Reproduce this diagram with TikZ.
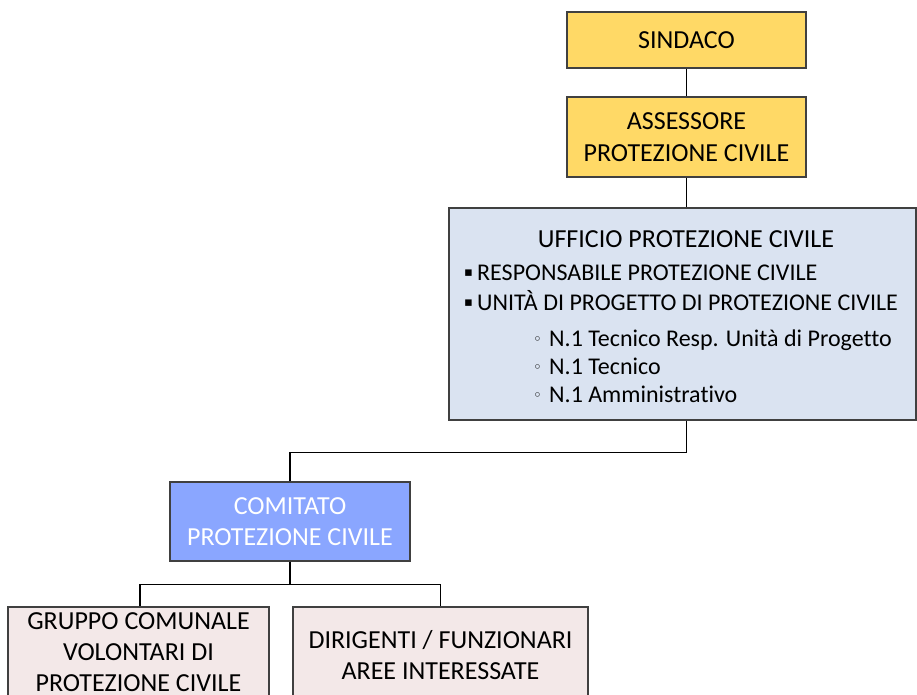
\documentclass[tikz,border=0pt]{standalone}
\usepackage{fontspec}
\setmainfont[Ligatures=CommonOff]{Carlito}
\newfontfamily\symfont{DejaVu Sans}
\definecolor{boxgold}{RGB}{255,217,102}
\definecolor{boxlblue}{RGB}{218,227,241}
\definecolor{boxblue}{RGB}{138,166,255}
\definecolor{boxpink}{RGB}{243,232,232}
\definecolor{edgegray}{RGB}{64,64,64}
\newcommand{\sqbul}{\makebox[13pt][l]{\raisebox{4pt}{\symfont\fontsize{13}{13}\selectfont ▪}}}
\newcommand{\cirbul}{\makebox[16pt][l]{\raisebox{2pt}{\symfont\fontsize{15}{15}\selectfont ◦}}}
\begin{document}
\begin{tikzpicture}[x=1pt,y=-1pt,
  orgbox/.style={draw=edgegray,line width=1.2pt,rectangle,inner sep=0pt,align=center,
    font=\fontsize{26}{31.5}\selectfont},
  boxtxt/.style={anchor=north,inner sep=0pt,align=center,font=\fontsize{26}{31}\selectfont},
  itemtxt/.style={anchor=base west,inner sep=0pt,font=\fontsize{24}{30}\selectfont},
  link/.style={draw=black,line width=1.2pt}]
\useasboundingbox (0,0) rectangle (917,695);
\clip (0,0) rectangle (917,695);
\node[orgbox,fill=boxgold,minimum width=239pt,minimum height=56pt] (sindaco) at (686.5,40) {SINDACO};
\node[orgbox,fill=boxgold,minimum width=239pt,minimum height=80pt] (assessore) at (686.5,137) {ASSESSORE\\PROTEZIONE CIVILE};
\node[orgbox,fill=boxlblue,minimum width=467pt,minimum height=212pt] (ufficio) at (682.5,314) {};
\node[orgbox,fill=boxblue,text=white,minimum width=240pt,minimum height=79pt] (comitato) at (290,521.5) {COMITATO\\PROTEZIONE CIVILE};
\node[orgbox,fill=boxpink,minimum width=261pt,minimum height=113pt] (gruppo) at (138.5,663.5) {};
\node[orgbox,fill=boxpink,minimum width=295pt,minimum height=113pt] (dirigenti) at (440.5,663.5) {};
\node[boxtxt] (gruppotxt) at (138.5,612) {GRUPPO COMUNALE\\VOLONTARI DI\\PROTEZIONE CIVILE};
\node[boxtxt] (dirigentitxt) at (440.5,630) {DIRIGENTI / FUNZIONARI\\AREE INTERESSATE};
% text of ufficio
\node[anchor=base,inner sep=0pt,font=\fontsize{26}{30}\selectfont] (t0) at (686,247) {UFFICIO PROTEZIONE CIVILE};
\node[itemtxt] (t1) at (464,280) {\sqbul RESPONSABILE PROTEZIONE CIVILE};
\node[itemtxt] (t2) at (464,310) {\sqbul UNITÀ DI PROGETTO DI PROTEZIONE CIVILE};
\node[itemtxt] (t3) at (533,346) {\cirbul N.1 Tecnico Resp. Unità di Progetto};
\node[itemtxt] (t4) at (533,374) {\cirbul N.1 Tecnico};
\node[itemtxt] (t5) at (533,402) {\cirbul N.1 Amministrativo};
% connectors
\draw[link] (sindaco.south) -- (assessore.north);
\draw[link] (assessore.south) -- (assessore.south |- ufficio.north);
\draw[link] (sindaco.south |- ufficio.south) -- ++(0,32) -| (comitato.north);
\draw[link] (comitato.south) -- ++(0,23) -| ([xshift=1.5pt]gruppo.north);
\draw[link] (comitato.south) -- ++(0,23) -| (dirigenti.north);
\end{tikzpicture}
\end{document}
